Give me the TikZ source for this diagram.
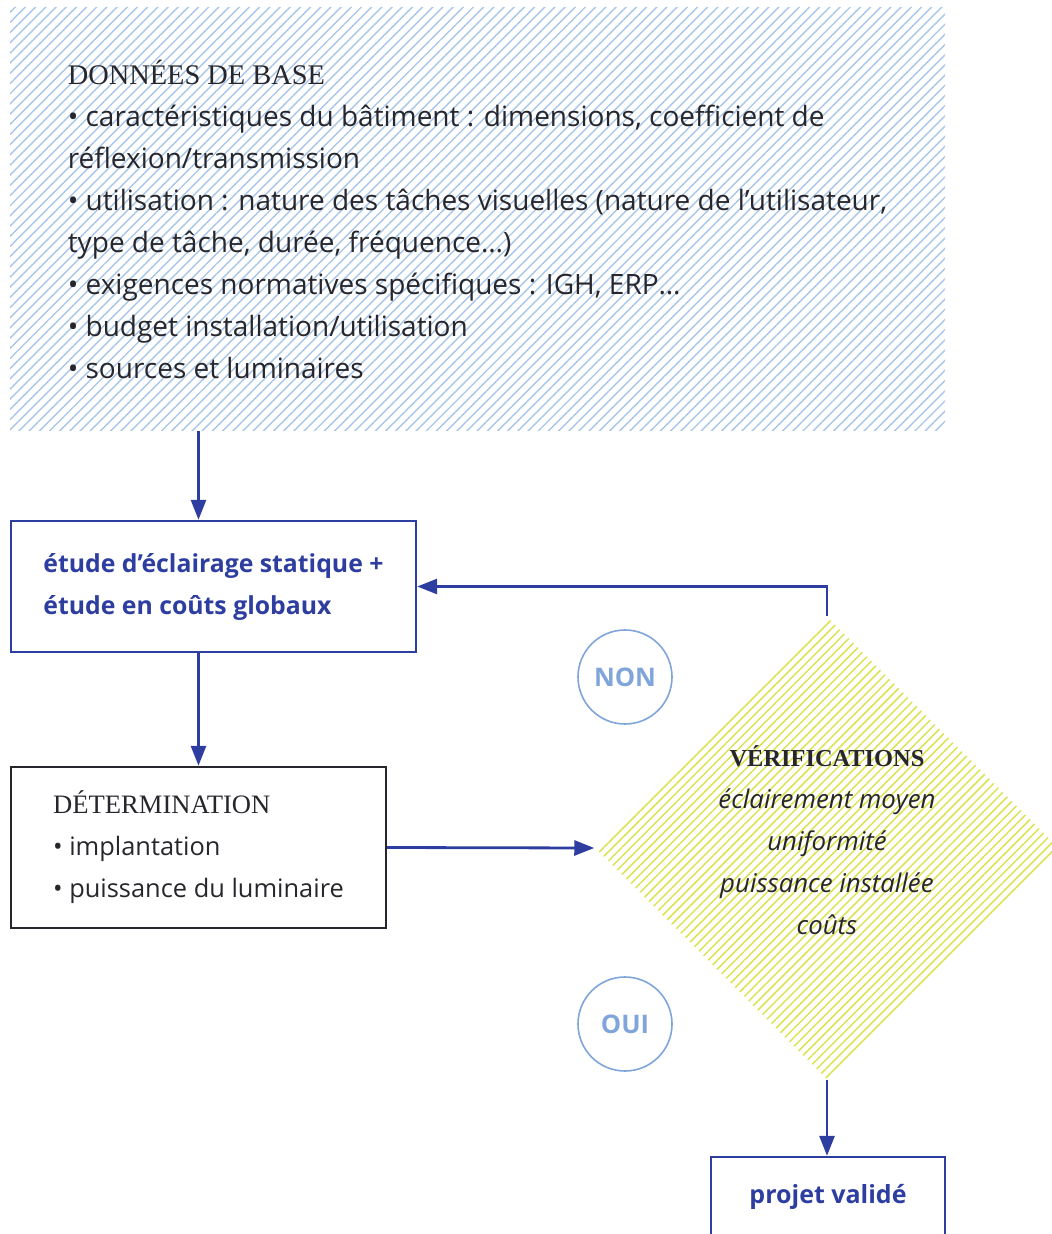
\documentclass[tikz,border=0pt]{standalone}
\usepackage{fontspec}
\setmainfont{Open Sans}
\newfontfamily\headfont{Liberation Serif}
\usetikzlibrary{shapes.geometric,arrows.meta,patterns.meta}

\definecolor{navy}{RGB}{46,62,160}
\definecolor{ink}{RGB}{38,38,44}
\definecolor{ringblue}{RGB}{128,165,218}
\definecolor{hatchblue}{RGB}{168,198,232}
\definecolor{hatchyel}{RGB}{220,226,80}

\begin{document}
\begin{tikzpicture}[x=0.5pt,y=-0.5pt,
  body/.style={font=\fontsize{14}{21}\selectfont,text=ink},
  bx/.style={rectangle,draw=navy,line width=1.2pt,text=navy,
    font=\bfseries\fontsize{12.4}{21}\selectfont},
  kx/.style={rectangle,draw=ink,line width=1.2pt,text=ink,
    font=\fontsize{12.7}{21}\selectfont},
  arr/.style={draw=navy,line width=1.4pt,-{Triangle[length=10pt,width=7.5pt]}},
  tag/.style={circle,draw=ringblue,line width=0.8pt,minimum size=47pt,inner sep=0pt,
    text=ringblue,font=\bfseries\fontsize{12.8}{14}\selectfont}]
  \useasboundingbox (0,0) rectangle (1052,1234);
  \clip (0,0) rectangle (1052,1234);

  % input data, hatched panel
  \node[body,align=left,minimum width=467.5pt,minimum height=211.5pt,
    pattern={Lines[angle=45,distance=3.6pt,line width=0.7pt]},pattern color=hatchblue]
    (base) at (477.5,219) {%
    {\headfont\fontsize{14.2}{21}\selectfont DONNÉES DE BASE}\\
    • caractéristiques du bâtiment : dimensions, coefficient de\\
    réflexion/transmission\\
    • utilisation : nature des tâches visuelles (nature de l’utilisateur,\\
    type de tâche, durée, fréquence…)\\
    • exigences normatives spécifiques : IGH, ERP…\\
    • budget installation/utilisation\\
    • sources et luminaires};

  % study and sizing
  \node[bx,align=left,minimum width=202.5pt,minimum height=65.5pt]
    (etude) at (213.5,586.5) {étude d’éclairage statique +\\ étude en coûts globaux};
  \node[kx,align=left,minimum width=187.5pt,minimum height=80.5pt]
    (det) at (198.5,847.5) {%
    {\headfont\fontsize{13.3}{21}\selectfont DÉTERMINATION}\\
    • implantation\\
    • puissance du luminaire};

  % checks
  \node[diamond,aspect=1,inner sep=0pt,minimum width=232pt,minimum height=231.5pt,
    pattern={Lines[angle=45,distance=3.2pt,line width=0.75pt]},pattern color=hatchyel]
    (verif) at (827,848) {};
  \node[align=center,text=ink,font=\itshape\fontsize{12.9}{21}\selectfont]
    (veriftxt) at ([yshift=4pt]verif.center) {%
    {\headfont\upshape\bfseries\fontsize{12.2}{21}\selectfont VÉRIFICATIONS}\\
    éclairement moyen\\
    uniformité\\
    puissance installée\\
    coûts};

  \node[bx,minimum width=117pt,minimum height=40pt,font=\bfseries\fontsize{12.5}{21}\selectfont]
    (ok) at (828,1197) {projet validé};

  \node[tag] (non) at (625,677) {NON};
  \node[tag] (oui) at (625,1024) {OUI};

  % flow
  \draw[arr] (det.north |- base.south) -- (det.north |- etude.north);
  \draw[arr] (det.north |- etude.south) -- (det.north);
  \draw[arr] (det.east) -- (verif.west);
  \draw[arr] (verif.north) |- (etude.east);
  \draw[arr] (verif.south) -- (verif.south |- ok.north);
\end{tikzpicture}
\end{document}
